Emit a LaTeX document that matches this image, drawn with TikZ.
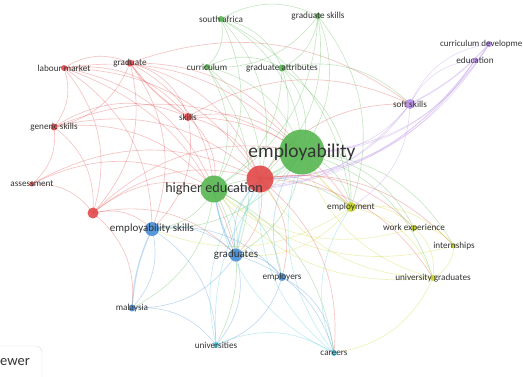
\documentclass[tikz,border=0pt]{standalone}
\usepackage{fontspec}
\setmainfont{Carlito}
\usepackage{tikz}
\usetikzlibrary{backgrounds}
\definecolor{kwred}{RGB}{226,72,72}
\definecolor{kwgreen}{RGB}{86,182,80}
\definecolor{kwblue}{RGB}{72,142,215}
\definecolor{kwyellow}{RGB}{200,212,40}
\definecolor{kwpurple}{RGB}{182,140,228}
\definecolor{kwcyan}{RGB}{80,200,222}
\tikzstyle{kw}      = [circle, inner sep=0pt, fill opacity=0.9]
\tikzstyle{kwtext}  = [inner sep=0pt, text=black!80]
\tikzstyle{link}    = [line width=0.65pt, opacity=0.33]
\tikzstyle{logobox} = [draw=black!15, rounded corners=6pt, minimum width=56pt, minimum height=44pt, inner sep=0pt]

\begin{document}
\begin{tikzpicture}[x=1pt,y=-1pt]
        \useasboundingbox (0,0) rectangle (523,376);

        \foreach \n/\x/\y/\d/\c in {safrica/221/19/6/kwgreen, gskills/318/16/6/kwgreen,
            curric/207/67/6/kwgreen, gattr/282/68/7/kwgreen, employab/302/152/45/kwgreen,
            highered/214/189/27/kwgreen, labour/64/68/6/kwred, graduate/130/63/7/kwred,
            skills/188/117/8/kwred, generic/54/127/7/kwred, assess/32/184/5/kwred,
            redlow/93/213/11/kwred, redhub/260/179/27/kwred, softsk/410/104/10/kwpurple,
            curdev/489/44/6/kwpurple, educ/475/60/5/kwpurple, employm/351/207/10/kwyellow,
            workexp/414/228/6/kwyellow, intern/454/246/5/kwyellow, ugrads/433/278/6/kwyellow,
            empskills/152/229/14/kwblue, grads/236/255/13/kwblue, employers/282/277/8/kwblue,
            malaysia/132/308/7/kwblue, univ/216/345/6/kwcyan, careers/334/353/6/kwcyan}
            \node[kw, fill=\c, minimum size=\d pt] (\n) at (\x,\y) {};

        \begin{scope}[on background layer]
        \foreach \a/\b/\c in {labour/graduate/kwred, labour/generic/kwred, labour/skills/kwred,
            labour/redhub/kwred, labour/employab/kwred, labour/highered/kwred, labour/redlow/kwred,
            labour/empskills/kwred, labour/grads/kwred, graduate/skills/kwred, graduate/generic/kwred,
            graduate/redhub/kwred, graduate/employab/kwred, graduate/highered/kwred,
            graduate/redlow/kwred, graduate/softsk/kwred, graduate/empskills/kwred,
            generic/skills/kwred, generic/redhub/kwred, generic/employab/kwred, generic/assess/kwred,
            generic/redlow/kwred, generic/highered/kwred, skills/redhub/kwred, skills/employab/kwred,
            skills/highered/kwred, skills/softsk/kwred, skills/employm/kwred, skills/empskills/kwred,
            assess/redlow/kwred, assess/redhub/kwred, assess/highered/kwred, redlow/redhub/kwred,
            redlow/employab/kwred, redlow/empskills/kwred, redlow/highered/kwred,
            redlow/malaysia/kwred, redlow/grads/kwred, redhub/employm/kwred, redhub/workexp/kwred,
            redhub/intern/kwred, redhub/ugrads/kwred, redhub/grads/kwred, redhub/employers/kwred,
            redhub/careers/kwred, redhub/softsk/kwred,
            safrica/employab/kwgreen, safrica/highered/kwgreen, safrica/curric/kwgreen,
            safrica/gattr/kwgreen, safrica/gskills/kwgreen, safrica/redhub/kwgreen,
            safrica/employm/kwgreen, gskills/employab/kwgreen, gskills/highered/kwgreen,
            gskills/gattr/kwgreen, gskills/curric/kwgreen, gskills/redhub/kwgreen,
            gskills/employm/kwgreen, curric/employab/kwgreen, curric/highered/kwgreen,
            curric/gattr/kwgreen, curric/redhub/kwgreen, curric/grads/kwgreen,
            gattr/employab/kwgreen, gattr/highered/kwgreen, gattr/redhub/kwgreen,
            gattr/softsk/kwgreen, gattr/employm/kwgreen, employab/highered/kwgreen,
            employab/employm/kwgreen, employab/workexp/kwgreen, employab/intern/kwgreen,
            employab/ugrads/kwgreen, employab/empskills/kwgreen, employab/grads/kwgreen,
            highered/empskills/kwgreen, highered/grads/kwgreen, highered/employers/kwgreen,
            highered/employm/kwgreen, highered/malaysia/kwgreen, highered/univ/kwgreen,
            highered/careers/kwgreen,
            softsk/employab/kwpurple, softsk/curdev/kwpurple, softsk/educ/kwpurple,
            softsk/redhub/kwpurple, softsk/highered/kwpurple, softsk/employm/kwpurple,
            curdev/employab/kwpurple, curdev/highered/kwpurple, curdev/redhub/kwpurple,
            educ/employab/kwpurple, educ/highered/kwpurple, educ/redhub/kwpurple,
            employm/workexp/kwyellow, employm/intern/kwyellow, employm/ugrads/kwyellow,
            employm/empskills/kwyellow, employm/grads/kwyellow, workexp/ugrads/kwyellow,
            workexp/intern/kwyellow, workexp/highered/kwyellow, intern/ugrads/kwyellow,
            intern/highered/kwyellow, ugrads/careers/kwyellow, ugrads/employab/kwyellow,
            ugrads/highered/kwyellow, ugrads/redhub/kwyellow,
            empskills/grads/kwblue, empskills/malaysia/kwblue, empskills/employers/kwblue,
            empskills/univ/kwblue, grads/employers/kwblue, grads/malaysia/kwblue,
            grads/univ/kwblue, grads/careers/kwblue, grads/redhub/kwblue,
            employers/careers/kwblue, employers/univ/kwblue, employers/employab/kwblue,
            malaysia/univ/kwblue, univ/careers/kwcyan, univ/redhub/kwcyan, univ/employab/kwcyan,
            careers/redhub/kwcyan, careers/employab/kwcyan, careers/employm/kwcyan,
            careers/highered/kwcyan}
            \draw[link, draw=\c] (\a.center) to[bend left=28] (\b.center);

        \foreach \a/\b/\c in {graduate/skills/kwred, redhub/employab/kwgreen,
            highered/grads/kwblue, redhub/grads/kwcyan, softsk/curdev/kwpurple,
            employab/employm/kwyellow, empskills/malaysia/kwblue}
            \draw[link, draw=\c, line width=1.4pt] (\a.center) to[bend right=10] (\b.center);
        \end{scope}

        \foreach \n/\f/\t in {safrica/9.2/south africa, gskills/9.2/graduate skills,
            curric/9.2/curriculum, gattr/9.2/graduate attributes, labour/9.2/labour market,
            graduate/9.2/graduate, skills/9.2/skills, generic/9.2/generic skills,
            assess/9.2/assessment, softsk/9.2/soft skills,
            educ/9.2/education, employm/9.2/employment, workexp/9.2/work experience,
            intern/9.2/internships, ugrads/9.2/university graduates, employers/9.2/employers,
            malaysia/9.2/malaysia, univ/9.2/universities, careers/9.2/careers,
            empskills/11/employability skills, grads/11/graduates,
            highered/14.2/higher education, employab/19.5/employability}
            \node[kwtext, font=\fontsize{\f}{\f}\selectfont] (\n-t) at (\n) {\t};
        \node[kwtext, font=\fontsize{9}{9}\selectfont, anchor=east] (curdev-t) at (522.5,44) {curriculum developme};

        \node[logobox] (logo) at (14,368) {};
        \node[kwtext, font=\fontsize{14.5}{14.5}\selectfont, anchor=west] (logo-t) at (0,362) {ewer};
\end{tikzpicture}
\end{document}
